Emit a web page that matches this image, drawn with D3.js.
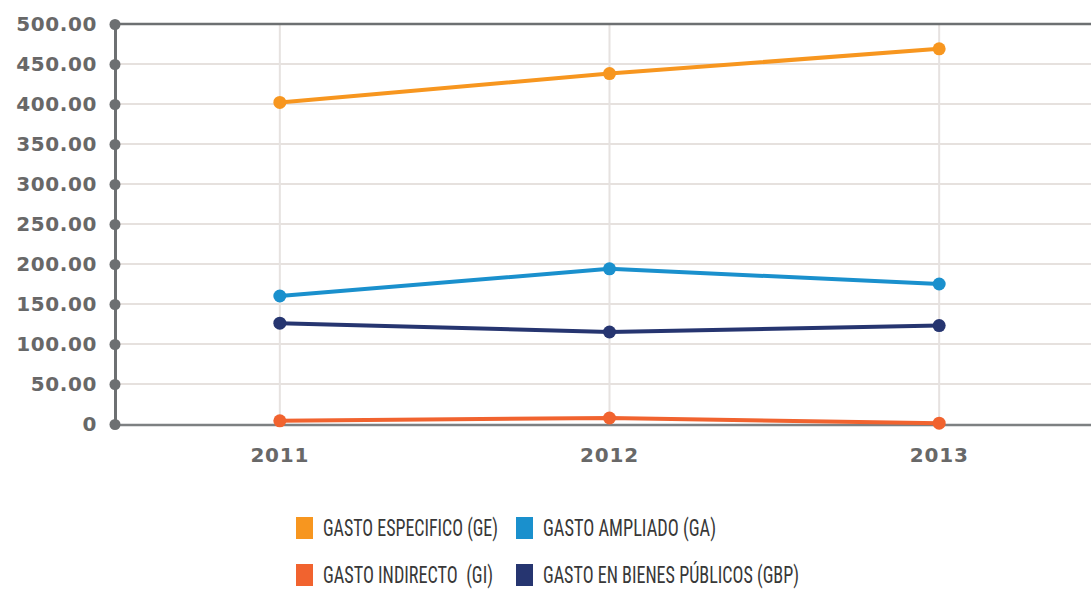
<!DOCTYPE html>
<html><head><meta charset="utf-8">
<script src="https://cdnjs.cloudflare.com/ajax/libs/d3/7.8.5/d3.min.js"></script>
<style>body{margin:0;background:#fff}svg{display:block}</style>
</head><body>
<svg id="c" width="1091" height="591"></svg>
<script>
const years = ["2011","2012","2013"];
const yTicks = [0,50,100,150,200,250,300,350,400,450,500];
const gastoEspecifico = [402, 438, 469];
const gastoAmpliado = [160, 194, 175];
const gastoIndirecto = [4, 7.5, 1];
const gastoBienesPublicos = [126, 115, 123];
const seriesNames = ["GASTO ESPECIFICO (GE)","GASTO AMPLIADO (GA)","GASTO INDIRECTO  (GI)","GASTO EN BIENES PÚBLICOS (GBP)"];
const seriesColors = ["#f7961f","#1a90cd","#f1632f","#263570"];

const series = [
  {name:seriesNames[0], color:seriesColors[0], values:gastoEspecifico},
  {name:seriesNames[1], color:seriesColors[1], values:gastoAmpliado},
  {name:seriesNames[2], color:seriesColors[2], values:gastoIndirecto},
  {name:seriesNames[3], color:seriesColors[3], values:gastoBienesPublicos}
];

const svg = d3.select("#c");
const x = d3.scaleBand().domain(years).range([115, 1104]);
const y = d3.scaleLinear().domain([0,500]).range([424, 24]);
const cx = d => x(d) + x.bandwidth()/2;

svg.append("g").selectAll("line").data(yTicks.filter(t=>t>0 && t<500)).join("line")
  .attr("x1",115).attr("x2",1091).attr("y1",d=>y(d)).attr("y2",d=>y(d))
  .attr("stroke","#e6e1de").attr("stroke-width",2);
svg.append("g").selectAll("line").data(years).join("line")
  .attr("x1",cx).attr("x2",cx).attr("y1",24).attr("y2",424)
  .attr("stroke","#e6e2e0").attr("stroke-width",2);

svg.append("line").attr("x1",115).attr("x2",1091).attr("y1",y(500)).attr("y2",y(500))
  .attr("stroke","#6d7072").attr("stroke-width",2.5);
svg.append("line").attr("x1",115).attr("x2",1091).attr("y1",y(0)+1).attr("y2",y(0)+1)
  .attr("stroke","#7d8082").attr("stroke-width",2.5);

const yAxis = svg.append("g").attr("transform","translate(115,0)")
  .call(d3.axisLeft(y).tickValues(yTicks).tickSize(0).tickPadding(18)
    .tickFormat(d=> d===0 ? "0" : d3.format(".2f")(d)));
yAxis.select(".domain").attr("stroke","#6d7072").attr("stroke-width",3);
yAxis.selectAll("text").attr("font-family","'DejaVu Sans', Verdana, sans-serif")
  .attr("font-weight","bold").attr("font-size",20).attr("letter-spacing",0.6).attr("fill","#686868");
yAxis.selectAll(".tick").append("circle").attr("r",5.5).attr("fill","#6d7072");

const xAxis = svg.append("g").attr("transform","translate(0,424)")
  .call(d3.axisBottom(x).tickSize(0).tickPadding(24));
xAxis.select(".domain").remove();
xAxis.selectAll("text").attr("font-family","'DejaVu Sans', Verdana, sans-serif")
  .attr("font-weight","bold").attr("font-size",20).attr("letter-spacing",0.8).attr("fill","#686868");

const line = d3.line().x((d,i)=>cx(years[i])).y(d=>y(d));
const g = svg.append("g");
series.forEach(s=>{
  g.append("path").datum(s.values).attr("d",line).attr("fill","none")
    .attr("stroke",s.color).attr("stroke-width",4).attr("stroke-linejoin","round");
  g.selectAll(null).data(s.values).join("circle")
    .attr("cx",(d,i)=>cx(years[i])).attr("cy",d=>y(d)).attr("r",6.5).attr("fill",s.color);
});

const legendPos = [[296,517],[516,517],[296,564],[516,564]];
const legendWidths = [175,173,170,256];
series.forEach((s,i)=>{
  const [lx,ly] = legendPos[i];
  svg.append("rect").attr("x",lx).attr("y",ly).attr("width",17).attr("height",22).attr("fill",s.color);
  svg.append("text").attr("x",lx+27).attr("y",ly+19)
    .attr("font-family","'Liberation Sans Narrow','Roboto Condensed','Liberation Sans',sans-serif")
    .attr("font-size",23).attr("fill","#383838")
    .attr("textLength",legendWidths[i]).attr("lengthAdjust","spacingAndGlyphs")
    .style("white-space","pre").text(s.name);
});
</script>
</body></html>
